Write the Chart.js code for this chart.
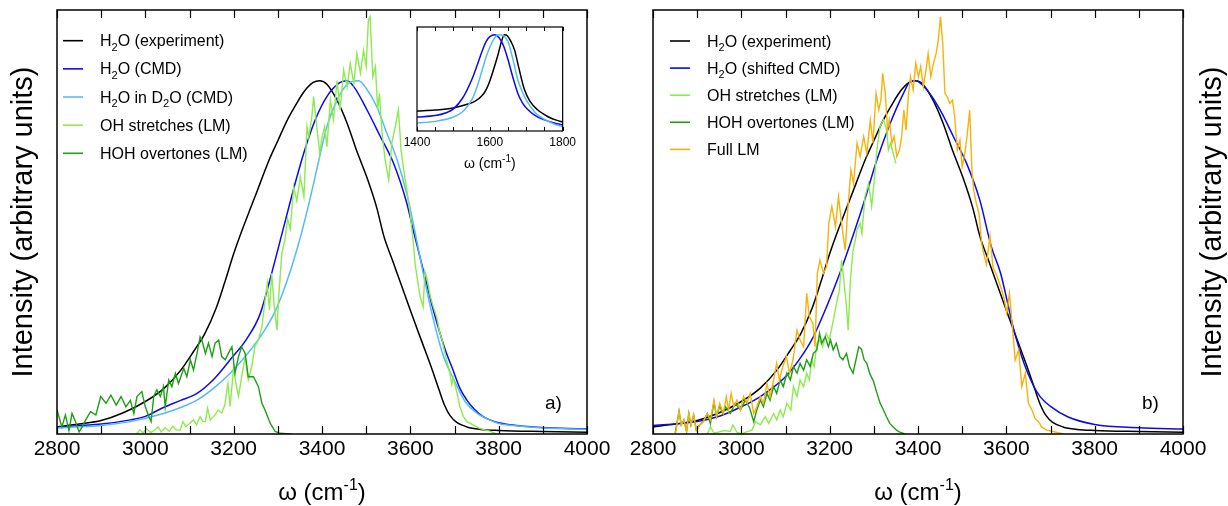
<!DOCTYPE html>
<html><head><meta charset="utf-8">
<script src="https://cdn.jsdelivr.net/npm/chart.js@4.4.0/dist/chart.umd.min.js"></script>
<style>
html,body{margin:0;padding:0;background:#fff;}
#wrap{position:relative;width:1228px;height:506px;overflow:hidden;background:#fff;}
canvas{position:absolute;}
</style></head><body>
<div id="wrap">
<canvas id="ca" width="614" height="506" style="left:0;top:0;width:614px;height:506px"></canvas>
<canvas id="cb" width="614" height="506" style="left:614px;top:0;width:614px;height:506px"></canvas>
<canvas id="ci" width="200" height="165" style="left:380px;top:15px;width:200px;height:165px"></canvas>
</div>
<script>
// ---------- tick values ----------
const mainTickLabels = [2800, 3000, 3200, 3400, 3600, 3800, 4000];
const mainMinorTicks = [2800, 2900, 3000, 3100, 3200, 3300, 3400, 3500, 3600, 3700, 3800, 3900, 4000];
const insetTickLabels = [1400, 1600, 1800];
const insetMinorTicks = [1400, 1450, 1500, 1550, 1600, 1650, 1700, 1750, 1800];

// ---------- H2O experiment (both panels) ----------
const expOmega = [2800,2850,2900,2950,3000,3043,3080,3110,3135,3160,3180,3200,3220,3240,3260,3280,3300,3320,3340,3360,3380,3395,3411,3434,3457,3479,3502,3524,3540,3560,3580,3600,3625,3650,3665,3678,3690,3705,3728,3760,3800,3900,4000];
const expInt   = [0.02,0.028,0.038,0.06,0.092,0.13,0.18,0.235,0.285,0.355,0.43,0.51,0.58,0.645,0.71,0.775,0.83,0.885,0.93,0.97,0.995,1.0,0.99,0.945,0.879,0.8,0.725,0.64,0.56,0.49,0.42,0.35,0.265,0.18,0.125,0.08,0.052,0.033,0.02,0.013,0.01,0.007,0.005];

// ---------- panel a: H2O (CMD) ----------
const cmdOmega = [2800,2900,2966,3000,3041,3080,3117,3155,3192,3230,3260,3285,3310,3335,3360,3385,3411,3441,3457,3472,3502,3532,3562,3592,3606,3630,3650,3667,3680,3697,3712,3728,3745,3764,3780,3803,3840,3878,3940,4000];
const cmdInt   = [0.02,0.028,0.04,0.05,0.075,0.095,0.115,0.155,0.21,0.27,0.34,0.45,0.57,0.69,0.8,0.89,0.955,0.995,1.0,0.983,0.917,0.842,0.766,0.653,0.58,0.46,0.36,0.286,0.235,0.18,0.13,0.096,0.07,0.05,0.04,0.031,0.024,0.02,0.016,0.014];

// ---------- panel a: H2O in D2O (CMD) ----------
const d2oOmega = [2800,2900,2966,3041,3080,3117,3155,3192,3230,3268,3295,3320,3345,3370,3392,3411,3434,3457,3483,3502,3524,3547,3570,3592,3606,3630,3651,3675,3700,3725,3750,3775,3800,3850,3900,4000];
const d2oInt   = [0.017,0.024,0.035,0.058,0.075,0.096,0.13,0.172,0.225,0.29,0.35,0.43,0.53,0.65,0.77,0.87,0.945,0.99,1.0,0.975,0.926,0.851,0.776,0.68,0.6,0.45,0.33,0.22,0.15,0.09,0.06,0.042,0.03,0.022,0.017,0.013];

// ---------- panel a: OH stretches (LM) ----------
const ohAOmega = [2980,2988,2995,3003,3012,3020,3029,3036,3045,3054,3062,3070,3079,3085,3092,3100,3109,3116,3124,3130,3136,3141,3147,3158,3165,3173,3180,3187,3192,3200,3205,3211,3217,3226,3233,3241,3248,3256,3264,3271,3276,3281,3286,3292,3298,3302,3309,3316,3322,3328,3336,3343,3351,3359,3366,3370,3377,3381,3389,3395,3400,3406,3411,3419,3426,3434,3441,3449,3457,3464,3472,3479,3487,3494,3500,3505,3509,3515,3521,3526,3530,3536,3543,3551,3558,3566,3573,3579,3585,3592,3600,3606,3611,3617,3622,3629,3633,3638,3645,3652,3660,3666,3671,3678,3684,3690,3694,3697,3705,3712,3720,3728,3743,3758,3780,3795];
const ohAInt   = [0,0.012,0.003,0.015,0.004,0.01,0.02,0.006,0.018,0.008,0.022,0.012,0.011,0.035,0.021,0.03,0.04,0.026,0.049,0.035,0.035,0.073,0.04,0.054,0.068,0.059,0.082,0.143,0.077,0.191,0.143,0.106,0.153,0.219,0.153,0.191,0.247,0.266,0.304,0.379,0.426,0.351,0.455,0.36,0.294,0.388,0.511,0.549,0.61,0.58,0.70,0.66,0.728,0.672,0.87,0.84,0.898,0.955,0.86,0.794,0.84,0.87,0.813,0.945,0.889,1.0,0.917,1.03,0.983,1.049,0.992,1.077,1.021,1.086,1.04,1.172,1.181,1.011,1.04,0.917,0.964,0.85,0.776,0.719,0.823,0.87,0.917,0.804,0.747,0.691,0.62,0.55,0.48,0.43,0.39,0.36,0.46,0.44,0.39,0.36,0.33,0.29,0.27,0.23,0.2,0.17,0.14,0.16,0.12,0.078,0.05,0.035,0.025,0.015,0.008,0];

// ---------- panel a: HOH overtones (LM) ----------
const hohAOmega = [2800,2811,2819,2827,2834,2842,2850,2857,2865,2876,2888,2899,2911,2922,2934,2945,2956,2966,2974,2981,2992,3000,3008,3013,3019,3026,3034,3041,3045,3053,3060,3068,3075,3087,3094,3102,3109,3117,3124,3128,3136,3143,3151,3158,3166,3173,3181,3188,3196,3203,3211,3218,3226,3233,3245,3256,3264,3271,3283,3294,3305,3330];
const hohAInt   = [0.068,0.02,0.054,0.01,0.058,0.035,0.006,0.02,0.04,0.063,0.054,0.106,0.087,0.11,0.082,0.106,0.077,0.095,0.058,0.106,0.12,0.077,0.049,0.035,0.106,0.125,0.106,0.134,0.077,0.153,0.134,0.172,0.143,0.186,0.162,0.21,0.181,0.228,0.275,0.266,0.228,0.257,0.219,0.257,0.266,0.219,0.21,0.228,0.247,0.172,0.219,0.247,0.228,0.162,0.162,0.134,0.087,0.068,0.03,0.007,0.002,0];

// ---------- panel b: H2O (shifted CMD) ----------
const cmdSOmega = [2800,2900,2950,3000,3043,3100,3133,3163,3193,3223,3247,3277,3307,3337,3367,3382,3395,3420,3450,3480,3510,3540,3566,3587,3616,3640,3660,3677,3700,3740,3800,3900,4000];
const cmdSInt   = [0.024,0.035,0.05,0.077,0.106,0.162,0.214,0.275,0.36,0.455,0.54,0.653,0.776,0.879,0.964,0.997,1.0,0.974,0.917,0.842,0.766,0.662,0.53,0.455,0.3,0.2,0.14,0.105,0.078,0.048,0.027,0.018,0.014];

// ---------- panel b: OH stretches (LM) ----------
const ohBOmega = [2923,2930,2938,2950,2962,2975,2981,2990,3001,3012,3024,3032,3043,3054,3062,3073,3080,3088,3095,3103,3112,3118,3126,3133,3141,3148,3154,3159,3165,3171,3177,3184,3192,3199,3207,3214,3222,3227,3232,3238,3242,3247,3253,3258,3262,3269,3273,3280,3288,3295,3301,3307,3314,3322,3329,3333,3338,3344,3350];
const ohBInt   = [0,0.021,0.002,0.006,0.01,0.007,0.026,0.005,0,0.006,0.011,0.035,0.026,0.049,0.03,0.058,0.04,0.068,0.049,0.087,0.068,0.134,0.106,0.153,0.134,0.172,0.153,0.21,0.191,0.257,0.266,0.247,0.285,0.266,0.313,0.36,0.408,0.492,0.436,0.36,0.294,0.436,0.52,0.549,0.578,0.596,0.568,0.672,0.709,0.644,0.719,0.804,0.87,0.889,0.86,0.804,0.823,0.794,0.766];

// ---------- panel b: HOH overtones (LM) ----------
const hohBOmega = [2850,2859,2864,2870,2876,2881,2886,2892,2898,2906,2914,2923,2930,2938,2944,2951,2958,2964,2975,2986,2998,3009,3019,3028,3035,3043,3050,3058,3065,3073,3080,3088,3095,3103,3111,3118,3126,3133,3141,3148,3156,3163,3171,3177,3182,3190,3197,3202,3208,3215,3223,3230,3238,3245,3253,3261,3266,3272,3278,3284,3291,3299,3306,3314,3321,3329,3336,3344,3352,3359,3370];
const hohBInt   = [0.002,0.064,0.026,0.04,0.007,0.058,0.026,0.054,0.011,0.026,0.035,0.058,0.03,0.09,0.049,0.08,0.058,0.077,0.058,0.087,0.068,0.096,0.073,0.035,0.068,0.096,0.077,0.115,0.096,0.134,0.115,0.153,0.134,0.172,0.153,0.191,0.172,0.2,0.181,0.21,0.191,0.228,0.238,0.285,0.257,0.275,0.247,0.266,0.238,0.257,0.219,0.21,0.228,0.191,0.172,0.219,0.247,0.24,0.21,0.2,0.17,0.15,0.12,0.088,0.07,0.048,0.03,0.02,0.01,0.005,0];

// ---------- panel b: Full LM ----------
const fullOmega = [2851,2859,2864,2870,2876,2881,2886,2892,2898,2906,2914,2923,2930,2938,2944,2951,2959,2966,2971,2977,2983,2990,2998,3005,3013,3020,3028,3035,3043,3050,3058,3065,3073,3080,3086,3094,3102,3109,3117,3126,3133,3141,3148,3154,3162,3167,3172,3178,3186,3193,3198,3205,3213,3220,3228,3235,3241,3248,3254,3262,3269,3277,3284,3292,3298,3305,3311,3316,3320,3326,3331,3335,3341,3346,3352,3358,3363,3368,3373,3378,3383,3389,3395,3401,3406,3412,3418,3423,3429,3435,3441,3446,3451,3456,3461,3466,3472,3478,3483,3489,3495,3500,3506,3511,3517,3522,3526,3532,3538,3544,3547,3555,3563,3570,3578,3587,3594,3601,3607,3613,3620,3628,3635,3643,3650,3658,3665,3673,3680,3691,3706,3729];
const fullInt   = [0.002,0.064,0.026,0.04,0.007,0.058,0.026,0.054,0.011,0.026,0.035,0.058,0.04,0.096,0.049,0.087,0.058,0.106,0.068,0.115,0.077,0.096,0.068,0.106,0.087,0.115,0.058,0.077,0.106,0.087,0.143,0.106,0.153,0.2,0.153,0.191,0.219,0.172,0.21,0.294,0.266,0.247,0.398,0.332,0.313,0.247,0.455,0.492,0.455,0.474,0.596,0.644,0.587,0.672,0.587,0.52,0.634,0.747,0.709,0.823,0.785,0.842,0.794,0.889,0.823,0.964,0.917,0.945,1.021,0.964,0.86,0.889,0.823,0.842,0.785,0.804,0.842,0.917,0.86,0.955,1.011,0.974,1.049,1.011,1.04,0.983,1.03,1.077,1.011,1.049,1.077,1.115,1.181,1.106,0.964,0.955,0.936,0.945,0.898,0.804,0.832,0.757,0.794,0.842,0.917,0.747,0.691,0.653,0.625,0.54,0.52,0.48,0.56,0.47,0.45,0.417,0.389,0.342,0.398,0.313,0.209,0.238,0.134,0.172,0.087,0.068,0.044,0.035,0.02,0.011,0.007,0];

// ---------- inset (bending band) ----------
const insExpOmega = [1400,1450,1500,1540,1560,1577,1590,1600,1612,1623,1632,1640,1648,1658,1668,1680,1695,1710,1731,1750,1767,1785,1800];
const insExpInt   = [0.208,0.218,0.24,0.28,0.31,0.36,0.43,0.52,0.66,0.8,0.93,1.0,0.99,0.93,0.84,0.65,0.43,0.31,0.22,0.17,0.135,0.11,0.093];
const insCmdOmega = [1400,1450,1480,1500,1525,1550,1565,1578,1590,1600,1614,1625,1637,1650,1663,1677,1690,1700,1725,1750,1775,1800];
const insCmdInt   = [0.145,0.16,0.19,0.23,0.34,0.53,0.68,0.82,0.93,0.98,1.0,0.97,0.89,0.74,0.56,0.39,0.29,0.24,0.16,0.115,0.085,0.062];
const insD2oOmega = [1400,1450,1500,1525,1550,1565,1578,1590,1600,1612,1623,1637,1650,1663,1677,1690,1700,1725,1750,1775,1800];
const insD2oInt   = [0.083,0.1,0.145,0.2,0.32,0.46,0.62,0.77,0.87,0.96,1.0,0.99,0.93,0.75,0.53,0.4,0.32,0.19,0.12,0.075,0.045];

// ---------- labels & colours ----------
const labelsA = ['H_2O (experiment)','H_2O (CMD)','H_2O in D_2O (CMD)','OH stretches (LM)','HOH overtones (LM)'];
const labelsB = ['H_2O (experiment)','H_2O (shifted CMD)','OH stretches (LM)','HOH overtones (LM)','Full LM'];
const C_BLACK='#000000', C_BLUE='#0a0af0', C_LBLUE='#55bbf5', C_LGREEN='#8ceb4e', C_DGREEN='#1e9e14', C_ORANGE='#f7b20c';

const FONT = '"Liberation Sans", Arial, Helvetica, sans-serif';
const pts = (xs, ys) => xs.map((x, i) => ({x: x, y: ys[i]}));

function segs(str){
  const out=[]; const re=/_(\w)|\^\{([^}]*)\}/g; let last=0, m;
  while((m=re.exec(str))){
    if(m.index>last) out.push({t:str.slice(last,m.index),k:0});
    if(m[1]!==undefined) out.push({t:m[1],k:-1}); else out.push({t:m[2],k:1});
    last=re.lastIndex;
  }
  if(last<str.length) out.push({t:str.slice(last),k:0});
  return out;
}
function drawRich(c,str,x,y,size,align){
  const s=segs(str); let w=0;
  s.forEach(p=>{ c.font=(p.k?Math.round(size*0.68):size)+'px '+FONT; p.w=c.measureText(p.t).width; w+=p.w; });
  let cx = align==='center' ? x-w/2 : x;
  c.textAlign='left'; c.textBaseline='alphabetic';
  s.forEach(p=>{ c.font=(p.k?Math.round(size*0.68):size)+'px '+FONT;
    const dy = p.k===-1 ? size*0.3 : (p.k===1 ? -size*0.42 : 0);
    c.fillText(p.t,cx,y+dy); cx+=p.w; });
}

const deco = {
  id:'deco',
  beforeDraw(chart,args,o){
    if(o.bg){ const a=chart.chartArea, c=chart.ctx; c.save(); c.fillStyle='#fff'; c.fillRect(a.left,a.top,a.right-a.left,a.bottom-a.top); c.restore(); }
  },
  afterDraw(chart,args,o){
    const c=chart.ctx, a=chart.chartArea, xs=chart.scales.x;
    c.save();
    c.strokeStyle='#000'; c.lineWidth=o.tickW;
    c.beginPath();
    o.minor.forEach(v=>{ const px=Math.round(xs.getPixelForValue(v))+0.5;
      c.moveTo(px,a.bottom); c.lineTo(px,a.bottom-o.tickLen);
      c.moveTo(px,a.top); c.lineTo(px,a.top+o.tickLen); });
    c.stroke();
    c.lineWidth=o.frameW;
    c.strokeRect(a.left,a.top,a.right-a.left,a.bottom-a.top);
    c.fillStyle='#000';
    drawRich(c,o.xTitle,(a.left+a.right)/2,o.xTitleY,o.xTitleSize,'center');
    if(o.yTitle){ c.save(); c.translate(o.yTitleX,(a.top+a.bottom)/2); c.rotate(-Math.PI/2);
      c.font=o.yTitleSize+'px '+FONT; c.textAlign='center'; c.textBaseline='middle'; c.fillText(o.yTitle,0,0); c.restore(); }
    if(o.tag){ c.font=o.tagSize+'px '+FONT; c.textAlign='left'; c.textBaseline='alphabetic'; c.fillText(o.tag,o.tagX,o.tagY); }
    if(o.legend){ const L=o.legend;
      chart.data.datasets.forEach((d,i)=>{ const y=L.y0+L.dy*i;
        c.strokeStyle=d.borderColor; c.lineWidth=1.6; c.beginPath(); c.moveTo(L.x0,y); c.lineTo(L.x1,y); c.stroke();
        c.fillStyle='#000'; drawRich(c,d.label,L.tx,y+L.base,L.size,'left'); });
    }
    c.restore();
  }
};

function ds(label,color,data,smooth,i,w){
  return {label:label,data:data,borderColor:color,backgroundColor:color,borderWidth:w||1.5,
    pointRadius:0,fill:false,order:-i,
    cubicInterpolationMode: smooth?'monotone':'default', tension:0};
}

function mainChart(id,datasets,pad,decoOpts){
  return new Chart(document.getElementById(id),{
    type:'line',
    data:{datasets:datasets},
    options:{
      responsive:false, animation:false, devicePixelRatio:1,
      layout:{padding:{left:pad.left,right:pad.right,top:10,bottom:0}},
      plugins:{legend:{display:false},tooltip:{enabled:false},deco:decoOpts},
      scales:{
        x:{type:'linear',min:2800,max:4000,
          afterBuildTicks:s=>{ s.ticks=mainTickLabels.map(v=>({value:v})); },
          afterFit:s=>{ s.height=72; },
          grid:{display:false,drawTicks:false}, border:{display:false},
          ticks:{font:{family:FONT,size:21},color:'#000',padding:3,maxRotation:0,autoSkip:false,callback:v=>String(v)}},
        y:{display:false,min:0,max:1.2}
      }
    },
    plugins:[deco]
  });
}

mainChart('ca',[
  ds(labelsA[0],C_BLACK,pts(expOmega,expInt),true,0,1.5),
  ds(labelsA[1],C_BLUE,pts(cmdOmega,cmdInt),true,1,1.5),
  ds(labelsA[2],C_LBLUE,pts(d2oOmega,d2oInt),true,2,1.5),
  ds(labelsA[3],C_LGREEN,pts(ohAOmega,ohAInt),false,3,1.4),
  ds(labelsA[4],C_DGREEN,pts(hohAOmega,hohAInt),false,4,1.4)
],{left:57,right:27},{
  minor:mainMinorTicks,tickLen:8,tickW:1.2,frameW:1.5,
  xTitle:'ω (cm^{-1})',xTitleY:500,xTitleSize:24,
  yTitle:'Intensity (arbitrary units)',yTitleX:24,yTitleSize:29,
  tag:'a)',tagX:545,tagY:409,tagSize:19,
  legend:{x0:63,x1:83,tx:100,y0:40.7,dy:28.15,base:5.5,size:16}
});

mainChart('cb',[
  ds(labelsB[0],C_BLACK,pts(expOmega,expInt),true,0,1.5),
  ds(labelsB[1],C_BLUE,pts(cmdSOmega,cmdSInt),true,1,1.5),
  ds(labelsB[2],C_LGREEN,pts(ohBOmega,ohBInt),false,2,1.4),
  ds(labelsB[3],C_DGREEN,pts(hohBOmega,hohBInt),false,3,1.4),
  ds(labelsB[4],C_ORANGE,pts(fullOmega,fullInt),false,4,1.4)
],{left:39,right:45},{
  minor:mainMinorTicks,tickLen:8,tickW:1.2,frameW:1.5,
  xTitle:'ω (cm^{-1})',xTitleY:500,xTitleSize:24,
  yTitle:'Intensity (arbitrary units)',yTitleX:599,yTitleSize:29,
  tag:'b)',tagX:528,tagY:409,tagSize:19,
  legend:{x0:56,x1:76,tx:93,y0:41,dy:27.1,base:5.5,size:16}
});

new Chart(document.getElementById('ci'),{
  type:'line',
  data:{datasets:[
    ds('H_2O (experiment)',C_BLACK,pts(insExpOmega,insExpInt),true,0,1.5),
    ds('H_2O (CMD)',C_BLUE,pts(insCmdOmega,insCmdInt),true,1,1.5),
    ds('H_2O in D_2O (CMD)',C_LBLUE,pts(insD2oOmega,insD2oInt),true,2,1.5)
  ]},
  options:{
    responsive:false, animation:false, devicePixelRatio:1,
    layout:{padding:{left:37,right:14,top:12,bottom:0}},
    plugins:{legend:{display:false},tooltip:{enabled:false},
      deco:{bg:true,minor:insetMinorTicks,tickLen:4,tickW:1,frameW:1.2,
        xTitle:'ω (cm^{-1})',xTitleY:153,xTitleSize:14}},
    scales:{
      x:{type:'linear',min:1400,max:1800,
        afterBuildTicks:s=>{ s.ticks=insetTickLabels.map(v=>({value:v})); },
        afterFit:s=>{ s.height=49; },
        grid:{display:false,drawTicks:false}, border:{display:false},
        ticks:{font:{family:FONT,size:12},color:'#000',padding:4,maxRotation:0,autoSkip:false,callback:v=>String(v)}},
      y:{display:false,min:0,max:1.08}
    }
  },
  plugins:[deco]
});
</script>
</body></html>
